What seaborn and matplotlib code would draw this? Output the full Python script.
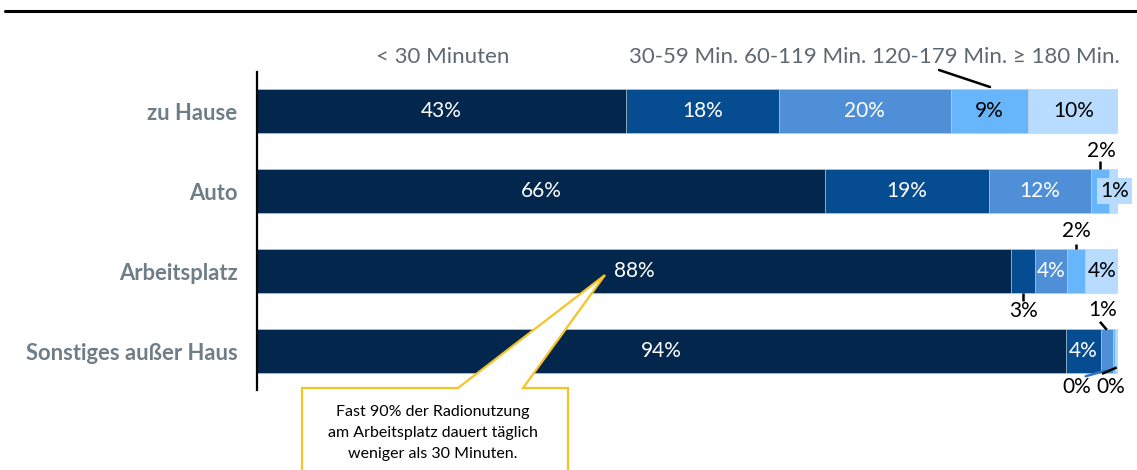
import numpy as np
import pandas as pd
import matplotlib
matplotlib.use("Agg")
import matplotlib.pyplot as plt
from matplotlib.patches import Polygon
from matplotlib.lines import Line2D
import seaborn as sns

# Daily radio listening time by location (share of listeners, %)
categories = ["zu Hause", "Auto", "Arbeitsplatz", "Sonstiges außer Haus"]
lt30 = [42.9, 66.0, 87.6, 94.0]
m30_59 = [17.7, 19.0, 2.8, 4.0]
m60_119 = [20.0, 11.9, 3.7, 1.4]
m120_179 = [9.0, 2.0, 2.1, 0.3]
m180 = [10.4, 1.1, 3.9, 0.3]
series_labels = ["< 30 Minuten", "30-59 Min.", "60-119 Min.", "120-179 Min.", "≥ 180 Min."]
callout_text = "Fast 90% der Radionutzung\nam Arbeitsplatz dauert täglich\nweniger als 30 Minuten."

W, H = 1137, 470
sns.set_theme(style="white")
plt.rcParams["font.family"] = ["Lato", "DejaVu Sans"]


def px(x, y):
    """Pixel position (origin top-left) to figure fraction."""
    return x / W, 1 - y / H


fig = plt.figure(figsize=(W / 100, H / 100), dpi=100)
ax = fig.add_axes([257 / W, 1 - 390 / H, 861 / W, 318 / H])

colors = ["#03264d", "#054c91", "#4e8fd7", "#67b5fb", "#b7dcff"]
text_colors = ["white", "white", "white", "black", "black"]
values = np.array([lt30, m30_59, m60_119, m120_179, m180])
ends = values.cumsum(axis=0)
starts = ends - values

# stacked bars: draw the longest cumulative bar first, then shorter ones on top
for k in range(len(values) - 1, -1, -1):
    d = pd.DataFrame({"Ort": categories, "Ende": ends[k]})
    sns.barplot(data=d, x="Ende", y="Ort", order=categories, orient="h",
                color=colors[k], saturation=1, width=0.55, errorbar=None,
                edgecolor="#c8d5e2", linewidth=0.5, ax=ax)

ax.set_xlim(0, 100)
ax.set_ylim(3.4875, -0.4875)
ax.set_xticks([])
ax.set_xlabel("")
ax.set_ylabel("")
for s in ["top", "right", "bottom"]:
    ax.spines[s].set_visible(False)
ax.spines["left"].set_color("black")
ax.spines["left"].set_linewidth(1.6)
ax.tick_params(axis="y", length=0, pad=14)
for lab in ax.get_yticklabels():
    lab.set_fontsize(15.8)
    lab.set_fontweight("bold")
    lab.set_color("#6f7d87")

half = 0.275
lbl_kw = dict(fontsize=15, ha="center", va="center")


def pct(v):
    return f"{int(round(v))}%"


for i in range(len(categories)):
    for k in range(len(values)):
        v = values[k, i]
        cx = starts[k, i] + v / 2
        if v >= 3:
            ax.text(cx, i, pct(v), color=text_colors[k], **lbl_kw)
        elif k == 4 and v >= 1:
            # tiny last segment labelled inside a box of its own colour
            ax.text(cx + 0.2, i, pct(v), color="black",
                    bbox=dict(boxstyle="square,pad=0.15", fc=colors[4], ec="none"),
                    **lbl_kw)

lead_kw = dict(color="black", lw=1.8, solid_capstyle="butt")

# Auto: 2% above
i, k = 1, 3
cx = starts[k, i] + values[k, i] / 2
ax.add_line(Line2D([cx, cx], [i - half - 0.1, i - half], **lead_kw))
ax.text(cx + 0.2, i - half - 0.22, pct(values[k, i]), color="black", **lbl_kw)

# Arbeitsplatz: 3% below, 2% above
i, k = 2, 1
cx = starts[k, i] + values[k, i] / 2
ax.add_line(Line2D([cx, cx], [i + half, i + half + 0.1], **lead_kw))
ax.text(cx, i + half + 0.22, pct(values[k, i]), color="black", **lbl_kw)
i, k = 2, 3
cx = starts[k, i] + values[k, i] / 2
ax.add_line(Line2D([cx, cx], [i - half - 0.06, i - half], **lead_kw))
ax.text(cx, i - half - 0.22, pct(values[k, i]), color="black", **lbl_kw)

# Sonstiges außer Haus: 1% above, 0% / 0% below
i = 3
cx = starts[2, i] + values[2, i] / 2
ax.add_line(Line2D([cx - 0.8, cx], [i - half - 0.09, i - half + 0.01], **lead_kw))
ax.text(cx - 0.5, i - half - 0.24, pct(values[2, i]), color="black", **lbl_kw)
cx = starts[3, i] + values[3, i] / 2
ax.add_line(Line2D([cx - 3.3, cx - 1.0], [i + half + 0.04, i + half - 0.03],
                   color="#2f74c4", lw=1.8, clip_on=False))
ax.text(cx - 4.3, i + half + 0.18, pct(values[3, i]), color="black", **lbl_kw)
cx = starts[4, i] + values[4, i] / 2
ax.add_line(Line2D([cx - 1.7, cx], [i + half + 0.01, i + half - 0.07],
                   clip_on=False, **lead_kw))
ax.text(cx - 0.7, i + half + 0.18, pct(values[4, i]), color="black", **lbl_kw)

# header row naming the duration classes
head_kw = dict(fontsize=16, color="#5e6870", va="center")
fig.text(*px(443, 57), series_labels[0], ha="center", **head_kw)
fig.text(*px(629, 57), " ".join(series_labels[1:]), ha="left", **head_kw)
fig.add_artist(Line2D(*zip(px(939, 70), px(990, 87)), transform=fig.transFigure,
                      color="black", lw=1.8))

# rule across the top
fig.add_artist(Line2D(*zip(px(5, 11), px(W, 11)), transform=fig.transFigure,
                      color="black", lw=2.2))

# speech-bubble callout pointing at the workplace share
bubble = [px(302, 388), px(458, 388), px(605, 275), px(523, 388),
          px(568, 388), px(568, 490), px(302, 490)]
fig.add_artist(Polygon(bubble, closed=True, transform=fig.transFigure,
                       fc="white", ec="#f7c325", lw=1.6, clip_on=False))
fig.text(*px(433, 433), callout_text, ha="center", va="center", fontsize=11.5,
         color="black", linespacing=1.65)

fig.savefig("out.png", dpi=100)
